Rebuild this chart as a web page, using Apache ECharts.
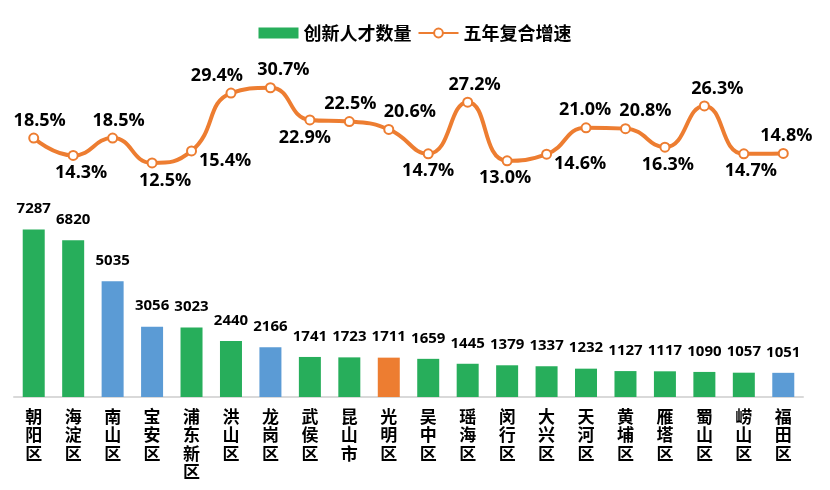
<!DOCTYPE html>
<html>
<head>
<meta charset="utf-8">
<script src="https://cdn.jsdelivr.net/npm/echarts@6/dist/echarts.min.js"></script>
<style>
html,body{margin:0;padding:0;background:#fff;}
#chart{width:830px;height:490px;}
</style>
</head>
<body>
<div id="chart"></div>
<script>
const categories = ['朝阳区','海淀区','南山区','宝安区','浦东新区','洪山区','龙岗区','武侯区','昆山市','光明区','吴中区','瑶海区','闵行区','大兴区','天河区','黄埔区','雁塔区','蜀山区','崂山区','福田区'];
const talentCount = [7287,6820,5035,3056,3023,2440,2166,1741,1723,1711,1659,1445,1379,1337,1232,1127,1117,1090,1057,1051];
const growthRate = [18.5,14.3,18.5,12.5,15.4,29.4,30.7,22.9,22.5,20.6,14.7,27.2,13.0,14.6,21.0,20.8,16.3,26.3,14.7,14.8];
const seriesNames = ['创新人才数量','五年复合增速'];

// styling (not data)
const GREEN = '#27AE5B', BLUE = '#5B9BD5', ORANGE = '#ED7D31';
const blueCats = ['南山区','宝安区','龙岗区','福田区'];
const orangeCats = ['光明区'];
const lineLabelPos = ['top','bottom','top','bottom','right','top','top','bottom','top','top','bottom','top','bottom','right','top','top','bottom','top','bottom','top'];
const lineLabelDx = [6,8,6,13,0,-14,13,-5,1,21,0,7,-2,0,-1,20,3,13,7,3];

const numFont = "'Open Sans','Noto Sans CJK SC',sans-serif";
const cjkFont = "'Noto Sans CJK SC','Microsoft YaHei',sans-serif";

const chart = echarts.init(document.getElementById('chart'), null, {renderer:'canvas'});

const barData = talentCount.map((v,i) => {
  const c = categories[i];
  const color = blueCats.includes(c) ? BLUE : (orangeCats.includes(c) ? ORANGE : GREEN);
  return {value: v, itemStyle: {color}};
});

const lineData = growthRate.map((v,i) => {
  const pos = lineLabelPos[i];
  return {
    value: v,
    label: {
      position: pos,
      distance: pos === 'right' ? 2 : 3,
      offset: pos === 'right' ? [0, 10] : [lineLabelDx[i], 0]
    }
  };
});

chart.setOption({
  animation: false,
  legend: {
    top: 19,
    left: 'center',
    itemGap: 6,
    itemWidth: 40,
    itemHeight: 11,
    textStyle: {fontFamily: cjkFont, fontSize: 18, fontWeight: 'bold', color: '#000'},
    data: [
      {name: seriesNames[0], icon: 'rect'},
      {name: seriesNames[1]}
    ]
  },
  grid: [
    {left: 14, right: 27, top: 213, bottom: 93, containLabel: false},
    {left: 14, right: 27, top: 70, bottom: 275.5, containLabel: false}
  ],
  xAxis: [
    {
      type: 'category', gridIndex: 0, data: categories,
      axisTick: {show: false},
      axisLine: {lineStyle: {color: '#D9D9D9', width: 2}},
      axisLabel: {
        interval: 0, margin: 10,
        fontFamily: cjkFont, fontSize: 17, fontWeight: 'bold', color: '#000',
        lineHeight: 18.5,
        formatter: v => v.split('').join('\n')
      }
    },
    {
      type: 'category', gridIndex: 1, data: categories,
      show: false
    }
  ],
  yAxis: [
    {type: 'value', gridIndex: 0, min: 0, max: 8000, show: false},
    {type: 'value', gridIndex: 1, min: 0, max: 35, show: false}
  ],
  series: [
    {
      name: seriesNames[0], type: 'bar', xAxisIndex: 0, yAxisIndex: 0,
      barWidth: 22,
      itemStyle: {color: GREEN},
      data: barData,
      label: {
        show: true, position: 'top', distance: 13,
        fontFamily: numFont, fontSize: 15, fontWeight: 'bold', color: '#000'
      }
    },
    {
      name: seriesNames[1], type: 'line', xAxisIndex: 1, yAxisIndex: 1,
      smooth: 0.5,
      symbol: 'circle', symbolSize: 9,
      lineStyle: {color: ORANGE, width: 4},
      itemStyle: {color: '#fff', borderColor: ORANGE, borderWidth: 2},
      data: lineData,
      label: {
        show: true,
        fontFamily: numFont, fontSize: 18, fontWeight: 'bold', color: '#000',
        formatter: p => p.value.toFixed(1) + '%'
      }
    }
  ]
});
</script>
</body>
</html>
